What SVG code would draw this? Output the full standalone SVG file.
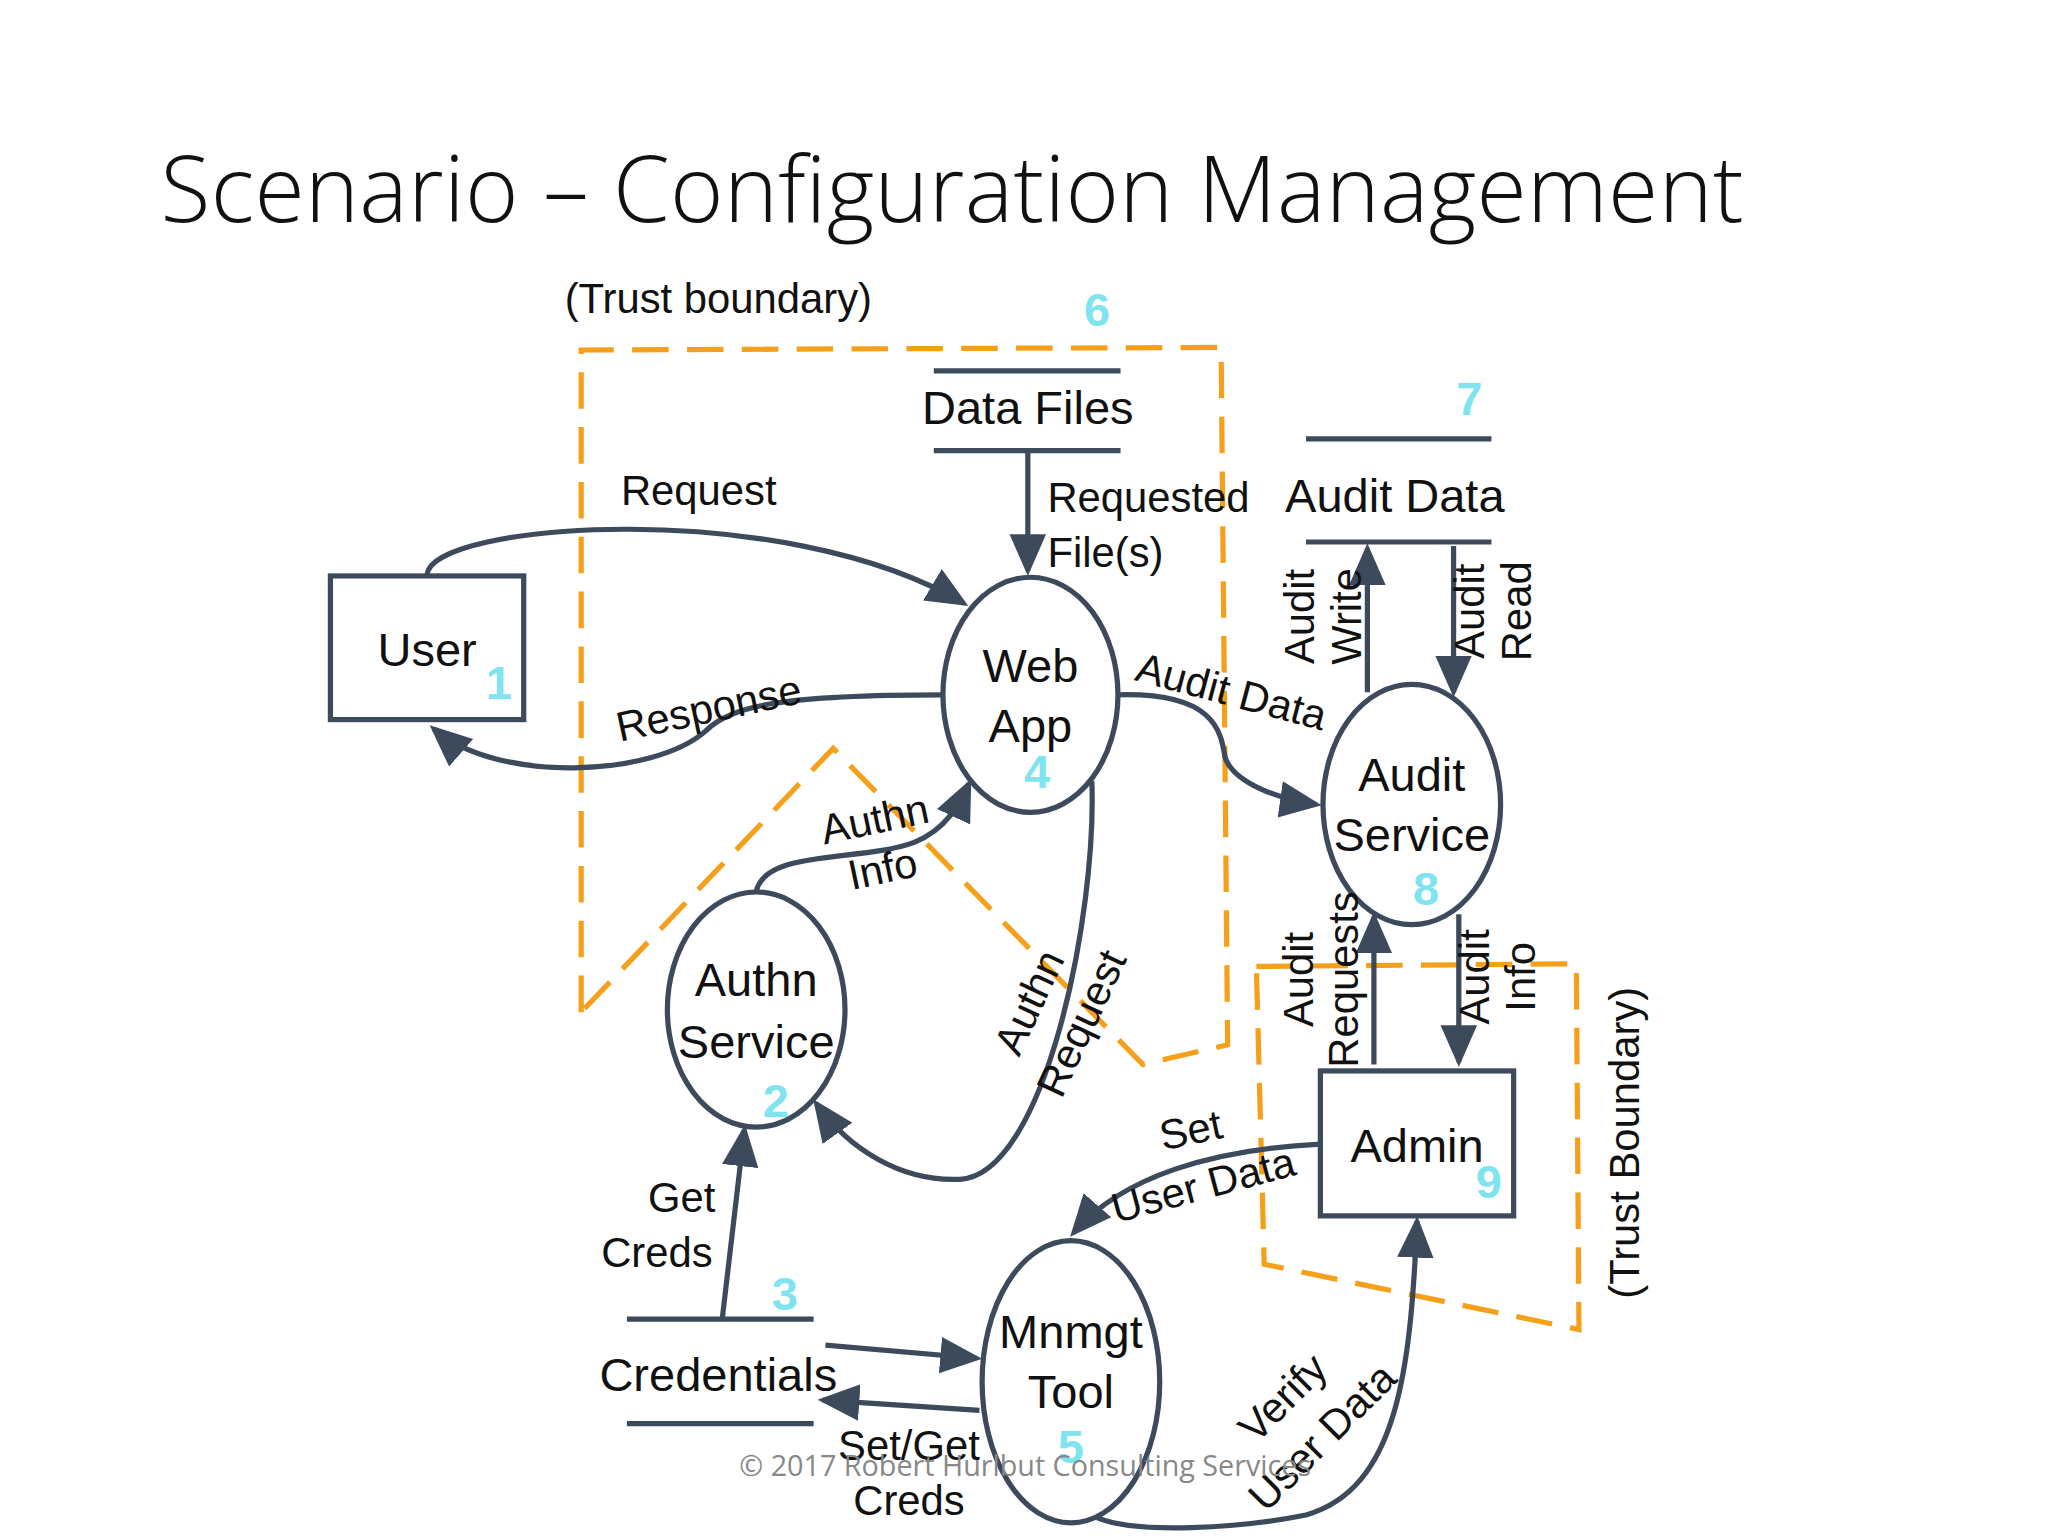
<svg xmlns="http://www.w3.org/2000/svg" width="2048" height="1536" viewBox="0 0 2048 1536">
<style>
.n{fill:none;stroke:#3d4a5c;stroke-width:4}
.c{fill:none;stroke:#3d4a5c;stroke-width:4;marker-end:url(#a)}
.b{fill:none;stroke:#f5a01a;stroke-width:4;stroke-dasharray:28 14}
.t{font-family:"Liberation Sans",Arial,sans-serif;font-size:36px;fill:#111;text-anchor:middle}
.l{font-family:"Liberation Sans",Arial,sans-serif;font-size:32px;fill:#111;text-anchor:middle}
.s{text-anchor:start}
.k{font-family:"Liberation Sans",Arial,sans-serif;font-size:36px;fill:#7fe3f0;font-weight:bold;text-anchor:middle}
</style>
<defs><marker id="a" markerWidth="8" markerHeight="8" refX="7" refY="4" orient="auto" markerUnits="strokeWidth"><path d="M0,0.5 L8,4 L0,7.5 Z" fill="#3d4a5c"/></marker></defs>
<rect width="2048" height="1536" fill="#fff"/>
<g transform="scale(1.306)">
<text x="123" y="170" font-family="'Open Sans',sans-serif" font-weight="300" font-size="70" fill="#111" textLength="1212">Scenario – Configuration Management</text>
<g id="boundaries">
<path class="b" d="M445,775 L445,268 L935,266 L940,800 L875,815 L638,573 L445,775"/>
<path class="b" d="M962,740 L1207,738 L1209,1018 L968,968 Z"/>
<text class="l" x="550" y="240">(Trust boundary)</text>
<text class="l" transform="translate(1255,875) rotate(-90)">(Trust Boundary)</text>
</g>
<g id="datafiles"><path class="n" d="M715,284H858M715,345H858"/><text class="t" x="787" y="325">Data Files</text><text class="k" x="840" y="250">6</text></g>
<g id="auditdata"><path class="n" d="M1000,336H1142M1000,415H1142"/><text class="t" x="1068" y="392">Audit Data</text><text class="k" x="1125" y="318">7</text></g>
<g id="user"><rect class="n" x="253" y="441" width="148" height="110"/><text class="t" x="327" y="510">User</text><text class="k" x="382" y="535">1</text></g>
<g id="webapp"><ellipse class="n" cx="789" cy="532" rx="67" ry="90"/><text class="t" x="789" y="522">Web</text><text class="t" x="789" y="568">App</text><text class="k" x="794" y="603">4</text></g>
<g id="auditservice"><ellipse class="n" cx="1081" cy="616" rx="68" ry="92"/><text class="t" x="1081" y="606">Audit</text><text class="t" x="1081" y="652">Service</text><text class="k" x="1092" y="693">8</text></g>
<g id="authnservice"><ellipse class="n" cx="579" cy="773" rx="68" ry="90"/><text class="t" x="579" y="763">Authn</text><text class="t" x="579" y="810">Service</text><text class="k" x="594" y="855">2</text></g>
<g id="mnmgt"><ellipse class="n" cx="820" cy="1058" rx="68" ry="108"/><text class="t" x="820" y="1032">Mnmgt</text><text class="t" x="820" y="1078">Tool</text><text class="k" x="820" y="1120">5</text></g>
<g id="admin"><rect class="n" x="1011" y="820" width="148" height="111"/><text class="t" x="1085" y="890">Admin</text><text class="k" x="1140" y="917">9</text></g>
<g id="credentials"><path class="n" d="M480,1010H623M480,1090H623"/><text class="t" x="550" y="1065">Credentials</text><text class="k" x="601" y="1003">3</text></g>
<g id="connectors">
<path class="c" d="M327,440 C330,400 600,380 738,462"/>
<path class="c" d="M722,532 C600,532 560,540 540,560 C500,595 380,600 332,558"/>
<path class="c" d="M787,345 L787,437"/>
<path class="c" d="M856,532 C930,530 935,560 938,580 C945,600 980,612 1008,616"/>
<path class="c" d="M1047,530 L1047,420"/>
<path class="c" d="M1113,418 L1113,530"/>
<path class="c" d="M579,683 C585,650 660,660 700,645 C725,635 735,615 742,600"/>
<path class="c" d="M836,598 C840,700 800,900 735,903 C690,905 650,880 625,845"/>
<path class="c" d="M553,1010 L570,865"/>
<path class="c" d="M632,1030 L748,1040"/>
<path class="c" d="M750,1080 L630,1072"/>
<path class="c" d="M1011,876 C930,880 860,900 822,944"/>
<path class="c" d="M840,1162 C870,1175 950,1170 1000,1160 C1070,1140 1080,1050 1085,935"/>
<path class="c" d="M1052,815 L1052,702"/>
<path class="c" d="M1117,700 L1117,813"/>
<text class="l" x="535" y="387">Request</text>
<text class="l" transform="translate(545,553) rotate(-12)">Response</text>
<text class="l s" x="802" y="392">Requested</text>
<text class="l s" x="802" y="434">File(s)</text>
<text class="l" transform="translate(940,540) rotate(15)">Audit Data</text>
<text class="l" transform="translate(1006,472) rotate(-90)">Audit</text>
<text class="l" transform="translate(1042,472) rotate(-90)">Write</text>
<text class="l" transform="translate(1136,468) rotate(-90)">Audit</text>
<text class="l" transform="translate(1172,468) rotate(-90)">Read</text>
<text class="l" transform="translate(672,638) rotate(-12)">Authn</text>
<text class="l" transform="translate(678,676) rotate(-12)">Info</text>
<text class="l" transform="translate(798,772) rotate(-65)">Authn</text>
<text class="l" transform="translate(838,788) rotate(-65)">Request</text>
<text class="l" x="522" y="928">Get</text>
<text class="l" x="503" y="970">Creds</text>
<text class="l" x="696" y="1118">Set/Get</text>
<text class="l" x="696" y="1160">Creds</text>
<text class="l" transform="translate(914,876) rotate(-12)">Set</text>
<text class="l" transform="translate(924,918) rotate(-15)">User Data</text>
<text class="l" transform="translate(990,1078) rotate(-45)">Verify</text>
<text class="l" transform="translate(1020,1108) rotate(-45)">User Data</text>
<text class="l" transform="translate(1005,750) rotate(-90)">Audit</text>
<text class="l" transform="translate(1040,750) rotate(-90)">Requests</text>
<text class="l" transform="translate(1140,748) rotate(-90)">Audit</text>
<text class="l" transform="translate(1175,748) rotate(-90)">Info</text>
</g>
<text x="785" y="1130" text-anchor="middle" font-family="'Open Sans',sans-serif" font-size="22" fill="#888">© 2017 Robert Hurlbut Consulting Services</text>
</g>
</svg>
